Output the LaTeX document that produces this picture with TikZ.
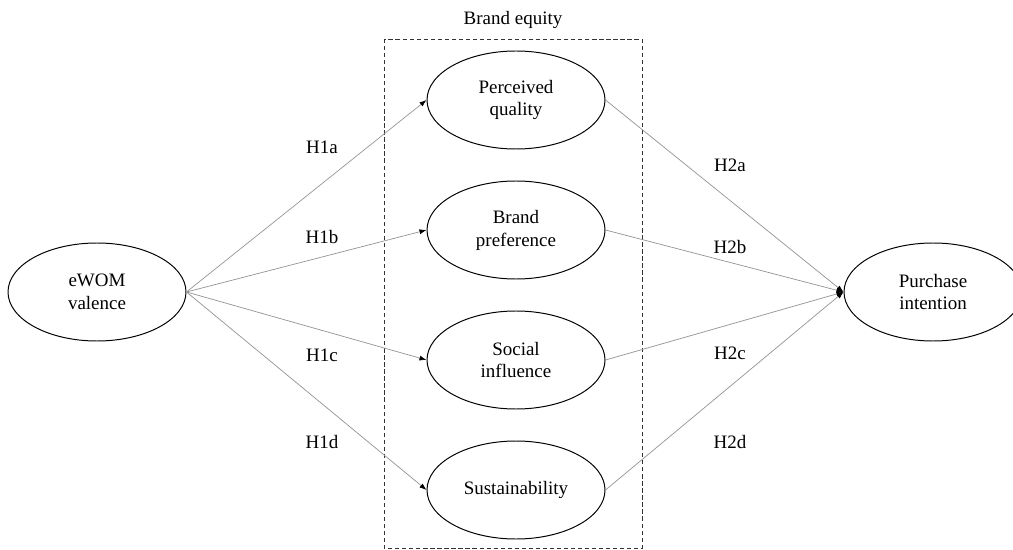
\documentclass[tikz,border=0pt]{standalone}
\usepackage{fontspec}
\setmainfont{Liberation Serif}
\usetikzlibrary{shapes.geometric,arrows.meta}
\begin{document}
\begin{tikzpicture}[
		font=\fontsize{13.5}{16.3}\selectfont,
		construct/.style={draw,ellipse,line width=0.7pt,minimum width=4.45cm,minimum height=2.45cm,inner sep=0pt,align=center},
		link/.style={draw=gray!85,line width=0.5pt,-{Latex[length=5pt,width=3.6pt,color=black]}}
	]
		\clip (0,0) rectangle (25.325,-13.75);
		\draw[line width=0.6pt,dash pattern=on 3pt off 2pt,black!80] (9.6,-0.975) rectangle (16.05,-13.7);
		\node at (12.825,-0.5) (be) {Brand equity};
		\node[construct] at (2.425,-7.3) (ewom) {eWOM\\valence};
		\node[construct] at (12.9,-2.5) (pq) {Perceived\\quality};
		\node[construct] at (12.9,-5.75) (bp) {Brand\\preference};
		\node[construct] at (12.9,-9.0) (si) {Social\\influence};
		\node[construct] at (12.9,-12.25) (su) {Sustainability};
		\node[construct] at (23.325,-7.3) (pi) {Purchase\\intention};
		\draw[link] (ewom.east) -- (pq.west);
		\draw[link] (ewom.east) -- (bp.west);
		\draw[link] (ewom.east) -- (si.west);
		\draw[link] (ewom.east) -- (su.west);
		\draw[link] (pq.east) -- (pi.west);
		\draw[link] (bp.east) -- (pi.west);
		\draw[link] (si.east) -- (pi.west);
		\draw[link] (su.east) -- (pi.west);
		\node at (8.05,-3.675) (h1a) {H1a};
		\node at (8.05,-5.925) (h1b) {H1b};
		\node at (8.05,-8.875) (h1c) {H1c};
		\node at (8.05,-11.05) (h1d) {H1d};
		\node at (18.25,-4.125) (h2a) {H2a};
		\node at (18.25,-6.175) (h2b) {H2b};
		\node at (18.25,-8.825) (h2c) {H2c};
		\node at (18.25,-11.05) (h2d) {H2d};
	\end{tikzpicture}
\end{document}
